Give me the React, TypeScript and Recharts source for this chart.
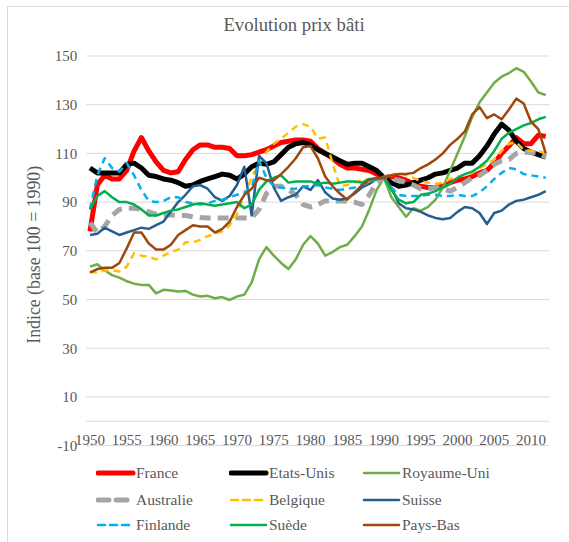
import React from "react";
import {
  LineChart,
  Line,
  XAxis,
  YAxis,
  CartesianGrid,
  Legend,
  ReferenceLine,
  Label,
} from "recharts";

const FONT = '"Liberation Serif", "Times New Roman", serif';
const TEXT = "#595959";

const years = Array.from({ length: 63 }, (_, i) => 1950 + i);
const xTicks = [1950, 1955, 1960, 1965, 1970, 1975, 1980, 1985, 1990, 1995, 2000, 2005, 2010];
const yTicks = [-10, 10, 30, 50, 70, 90, 110, 130, 150];

// 1950 -> 2012, base 100 = 1990
const france = [
  78, 97, 101, 99.5, 99.5, 103, 111, 116.5, 111, 106.5,
  103, 102, 102.5, 107.5, 111.5, 113.5, 113.5, 112.5, 112.5, 112,
  109, 109, 109.5, 110.5, 111.5, 113, 114.5, 115, 115.5, 115.5,
  115, 112, 110, 108, 105.5, 104, 104, 103.5, 103, 101.5,
  100, 100.5, 100, 99, 97.5, 96.5, 96, 96, 96.5, 98,
  99, 99.5, 100.5, 102, 103, 106, 110, 113, 116.5, 114,
  114, 117.5, 117,
];
const etatsUnis = [
  104, 102, 102, 102, 102, 105.5, 106, 104, 101, 100.5,
  99.5, 99, 98, 96.5, 97, 98.5, 99.5, 100.5, 101.5, 101,
  99.5, 101.5, 104.5, 106, 105.5, 106.5, 109.5, 112.5, 114, 114.5,
  113.5, 111.5, 110, 108.5, 107, 105.5, 106, 106, 104.5, 103,
  100, 98, 96.5, 97, 98, 99, 100, 101.5, 102, 103,
  104, 106, 106, 109, 113, 118, 122, 119.5, 115, 112,
  110.5, 109.5, 108.5,
];
const royaumeUni = [
  63.5, 64.5, 62, 60, 59, 57.5, 56.5, 56, 56, 52.5,
  54, 53.7, 53.3, 53.5, 52, 51.2, 51.5, 50.5, 51, 49.8,
  51.2, 52, 57, 66.5, 71.5, 68, 65, 62.5, 66.5, 72.5,
  76, 73, 68, 69.5, 71.5, 72.5, 76, 80, 87, 95,
  100, 92, 88, 84, 87.5, 86.5, 88, 91, 96, 103,
  110, 117, 125, 131, 135, 139, 141.5, 143, 145, 143.5,
  139.5, 135, 134,
];
const australie = [
  81.5, 77.5, 80, 84.5, 87, 87.5, 87.5, 87, 86, 85,
  84.7, 84.7, 84.5, 84.5, 84, 83.7, 83.5, 83.5, 83.5, 83.5,
  83.5, 83.5, 83.5, 87, 93.5, 96.5, 96.5, 95, 93, 89,
  88, 89, 90.5, 90.5, 90.5, 90.5, 90, 89, 93, 98,
  100, 99.5, 99, 98, 97, 95.5, 95.5, 96, 95.5, 94.5,
  96, 98, 100, 101, 103, 105.5, 107, 107.5, 110, 110.5,
  110.5, 110, 108.5,
];
const belgique = [
  61.5, 61, 62, 62, 61.5, 63.5, 69, 68, 67.5, 66.5,
  68, 69.5, 70.5, 73.5, 73.5, 74.5, 76, 77, 78, 80.5,
  85, 93, 100, 106, 110.5, 114, 116, 118.5, 121, 122,
  121, 116, 116.5, 106, 96.5, 97, 98, 99, 99.5, 99.5,
  100, 101, 102, 101, 100, 98.5, 98, 97.5, 98, 99.5,
  100.5, 101, 102, 104, 105.5, 107.5, 111, 114, 114.5, 111.5,
  111, 111, 110,
];
const suisse = [
  76.5, 77, 79.5, 78, 76.5, 77.5, 78.5, 79.5, 79, 80.5,
  82, 86, 90, 93, 96.5, 97, 95.5, 92, 90.5, 92.5,
  97, 104.5, 84.5, 109, 106, 96, 90.5, 92, 93, 96.5,
  95, 99, 94, 91.5, 91, 91.5, 93.5, 96, 97.5, 99.5,
  100, 96, 89.5, 87.5, 87, 86, 84.5, 83.5, 83, 83.5,
  86, 88, 87.5, 85.5, 81, 85.5, 86.5, 89, 90.5, 91,
  92, 93, 94.5,
];
const finlande = [
  87, 101, 108, 104, 102.5, 106, 101, 95, 90.5, 90,
  90.5, 92, 92, 90, 89.5, 89, 89.5, 90.5, 91, 92,
  93, 94, 96, 107, 100, 96.5, 96, 95.5, 95.5, 96.5,
  96.5, 97, 96, 95.5, 95, 95.5, 96, 97, 98, 99.5,
  100, 96, 93, 92.5, 92.5, 92.5, 93, 93, 92.5, 92.5,
  93, 92.5, 92.5, 94, 96.5, 99.5, 102, 104, 103.5, 101.5,
  101, 100.5, 100,
];
const suede = [
  87, 92.5, 94.5, 92, 90, 90, 89, 87, 84.5, 84.5,
  85.5, 86.5, 87, 88, 89, 89.5, 89, 88.5, 89, 89.5,
  90, 87.5, 89, 95, 98.5, 100, 101, 98, 98.5, 98.5,
  98.5, 97.5, 98, 97.5, 98, 98.5, 98.5, 98, 99.5, 99.5,
  100, 95, 91, 89.5, 90, 93, 93.5, 94.5, 96, 97.5,
  100, 101.5, 102.5, 104.5, 107, 111, 116, 118.5, 120, 121.5,
  122.5, 124, 125,
];
const paysBas = [
  61, 62.5, 63, 63, 65, 71, 77.5, 77.5, 73, 70.5,
  70.5, 72.5, 76.5, 78.5, 80.5, 80, 80, 77.5, 79, 82,
  88, 93, 95.5, 100, 99, 99, 101.5, 104.5, 108, 112.5,
  113, 108, 100.5, 96.5, 93.5, 91, 94, 97, 99, 100,
  100, 101, 101.5, 101.5, 102, 104, 105.5, 107.5, 110, 113.5,
  116, 119, 126, 129, 124.5, 126, 124, 128, 132.5, 130.5,
  123, 120, 110,
];

const series = [
  { key: "france", name: "France", color: "#FF0000", width: 5, dash: undefined as string | undefined, values: france },
  { key: "etatsUnis", name: "Etats-Unis", color: "#000000", width: 5, dash: undefined, values: etatsUnis },
  { key: "royaumeUni", name: "Royaume-Uni", color: "#70AD47", width: 2.5, dash: undefined, values: royaumeUni },
  { key: "australie", name: "Australie", color: "#A5A5A5", width: 5, dash: "11 7", values: australie },
  { key: "belgique", name: "Belgique", color: "#FFC000", width: 2.5, dash: "7 5", values: belgique },
  { key: "suisse", name: "Suisse", color: "#255E91", width: 2.5, dash: undefined, values: suisse },
  { key: "finlande", name: "Finlande", color: "#00B0F0", width: 2.5, dash: "7 5", values: finlande },
  { key: "suede", name: "Suède", color: "#00B050", width: 2.5, dash: undefined, values: suede },
  { key: "paysBas", name: "Pays-Bas", color: "#9E480E", width: 2.5, dash: undefined, values: paysBas },
];

const data = years.map((year, i) => {
  const row: Record<string, number> = { year };
  series.forEach((s) => {
    row[s.key] = s.values[i];
  });
  return row;
});

const XTick = ({ x, y, payload }: any) => (
  <text x={x} y={y} dy={-1} textAnchor="middle" fill={TEXT} fontSize={15} fontFamily={FONT}>
    {payload.value}
  </text>
);

const legendCols = [96, 229, 362];
const legendRows = [0, 27, 52];

const renderLegend = () => (
  <div style={{ position: "relative", height: 0, width: 569 }}>
    {series.map((s, i) => (
      <div
        key={s.key}
        style={{
          position: "absolute",
          left: legendCols[i % 3],
          top: legendRows[Math.floor(i / 3)],
          display: "flex",
          alignItems: "center",
          whiteSpace: "nowrap",
          fontFamily: FONT,
          fontSize: 15.5,
          color: TEXT,
          height: 20,
        }}
      >
        <svg width={40} height={10}>
          <line
            x1={2}
            y1={5}
            x2={37}
            y2={5}
            stroke={s.color}
            strokeWidth={s.width}
            strokeDasharray={s.dash}
            strokeLinecap="round"
          />
        </svg>
        <span>{s.name}</span>
      </div>
    ))}
  </div>
);

export default function App() {
  return (
    <div style={{ position: "absolute", left: 0, top: 0, width: 569, height: 542, overflow: "hidden", background: "#fff" }}>
      <div
        style={{
          position: "absolute",
          left: 7,
          top: 6,
          width: 570,
          height: 545,
          borderTop: "1px solid #D9D9D9",
          borderLeft: "1px solid #D9D9D9",
        }}
      />
      <div
        style={{
          position: "absolute",
          left: 0,
          top: 14,
          width: 588,
          textAlign: "center",
          fontFamily: FONT,
          fontSize: 18.7,
          color: TEXT,
        }}
      >
        Evolution prix bâti
      </div>
      <LineChart
        width={569}
        height={542}
        data={data}
        margin={{ top: 56, right: 19.6, bottom: 76.4, left: 36.3 }}
        style={{ position: "absolute", left: 0, top: 0 }}
      >
        <CartesianGrid vertical={false} stroke="#D9D9D9" strokeWidth={1} />
        <XAxis
          dataKey="year"
          type="number"
          domain={[1949.5, 2012.5]}
          ticks={xTicks}
          interval={0}
          height={20}
          axisLine={false}
          tickLine={false}
          tickSize={0}
          tickMargin={0}
          tick={<XTick />}
        />
        <YAxis
          type="number"
          domain={[-10, 150]}
          ticks={yTicks}
          interval={0}
          width={50}
          axisLine={false}
          tickLine={false}
          tickSize={0}
          tickMargin={9}
          tick={{ fill: TEXT, fontSize: 15, fontFamily: FONT }}
        >
          <Label
            content={({ viewBox }: any) => {
              const cx = 34;
              const cy = viewBox.y + viewBox.height / 2 + 4;
              return (
                <text
                  x={cx}
                  y={cy}
                  transform={`rotate(-90 ${cx} ${cy})`}
                  textAnchor="middle"
                  dominantBaseline="central"
                  fill={TEXT}
                  fontSize={17.8}
                  fontFamily={FONT}
                >
                  Indice (base 100 = 1990)
                </text>
              );
            }}
          />
        </YAxis>
        <ReferenceLine y={0} stroke="#D9D9D9" strokeWidth={1} />
        {series.map((s) => (
          <Line
            key={s.key}
            type="linear"
            dataKey={s.key}
            name={s.name}
            stroke={s.color}
            strokeWidth={s.width}
            strokeDasharray={s.dash}
            strokeLinejoin="round"
            dot={false}
            activeDot={false}
            isAnimationActive={false}
          />
        ))}
        <Legend
          verticalAlign="bottom"
          wrapperStyle={{ left: 0, top: 463, bottom: "auto", width: 569, height: 0 }}
          content={renderLegend}
        />
      </LineChart>
    </div>
  );
}
